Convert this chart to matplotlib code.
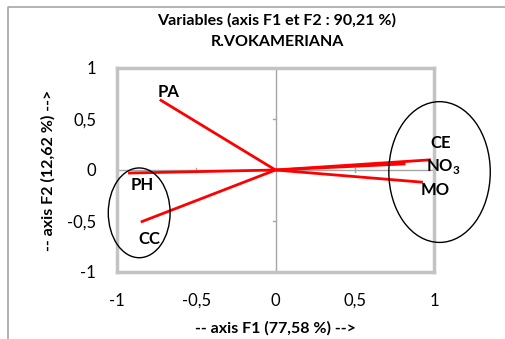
import matplotlib.pyplot as plt
from matplotlib.patches import Ellipse
from matplotlib.lines import Line2D

# loadings of the variables on F1 / F2
variables = ['PA', 'PH', 'CC', 'CE', 'NO3', 'MO']
f1 = [-0.73, -0.93, -0.85, 0.98, 0.82, 0.93]
f2 = [0.69, -0.03, -0.51, 0.10, 0.06, -0.12]
names = ['PA', 'PH', 'CC', 'CE', r'NO$_\mathbf{3}$', 'MO']
ticks = [-1, -0.5, 0, 0.5, 1]
tick_labels = ['-1', '-0,5', '0', '0,5', '1']

plt.rcParams['font.family'] = ['Lato', 'DejaVu Sans']
plt.rcParams['mathtext.fontset'] = 'custom'
plt.rcParams['mathtext.bf'] = 'Lato:bold'
plt.rcParams['mathtext.rm'] = 'Lato:bold'

fig = plt.figure(figsize=(5.06, 3.39), dpi=100)
ax = fig.add_axes([117/506, 1-272/339, 317/506, 204/339])

# outer chart border (left and top edges)
fig.add_artist(Line2D([8/506, 8/506, 1], [0, 1-7/339, 1-7/339],
                      transform=fig.transFigure, color='#a6a6a6', lw=1.2))

ax.set_xlim(-1, 1)
ax.set_ylim(-1, 1)
ax.axhline(0, color='#a6a6a6', lw=1, zorder=1)
ax.axvline(0, color='#a6a6a6', lw=1, zorder=1)
# small tick marks along the zero lines
for t in [-0.5, 0.5]:
    ax.plot([t, t], [-0.02, 0.02], color='#a6a6a6', lw=1, zorder=1)
    ax.plot([-0.015, 0], [t, t], color='#a6a6a6', lw=1, zorder=1)

for x, y in zip(f1, f2):
    ax.plot([0, x], [0, y], color='red', lw=2, solid_capstyle='butt', zorder=3)

offsets = {'PA': (0.055, 0.07), 'PH': (0.09, -0.12), 'CC': (0.055, -0.17),
           'CE': (0.06, 0.16), 'NO3': (0.24, -0.03), 'MO': (0.08, -0.08)}
for v, n, x, y in zip(variables, names, f1, f2):
    dx, dy = offsets[v]
    ax.text(x + dx, y + dy, n, fontsize=12, fontweight='bold',
            ha='center', va='center', zorder=4, clip_on=False)

ax.add_patch(Ellipse((1.035, -0.02), 0.64, 1.38, fill=False, ec='black',
                     lw=1, clip_on=False, zorder=5))
ax.add_patch(Ellipse((-0.86, -0.42), 0.39, 0.88, fill=False, ec='black',
                     lw=1, clip_on=False, zorder=5))

ax.set_xticks(ticks)
ax.set_xticklabels(tick_labels)
ax.set_yticks(ticks)
ax.set_yticklabels(tick_labels)
ax.tick_params(length=0, labelsize=12)
ax.tick_params(axis='x', pad=15)
ax.tick_params(axis='y', pad=15)
for s in ax.spines.values():
    s.set_color('#c3c3c3')
    s.set_linewidth(2.5)

ax.set_xlabel('-- axis F1 (77,58 %) -->', fontsize=11.5, fontweight='bold', labelpad=9)
ax.set_ylabel('-- axis F2 (12,62 %) -->', fontsize=11.5, fontweight='bold', labelpad=8)
fig.text(277/506, 1-20/339, 'Variables (axis F1 et F2 : 90,21 %)',
         fontsize=11.5, fontweight='bold', ha='center', va='center')
fig.text(277/506, 1-42/339, 'R.VOKAMERIANA',
         fontsize=11.5, fontweight='bold', ha='center', va='center')

fig.savefig('out.png', dpi=100)
